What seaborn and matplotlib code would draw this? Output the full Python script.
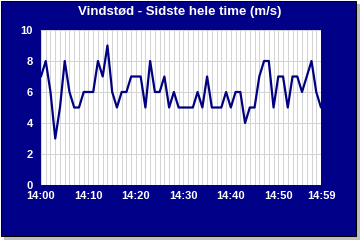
import matplotlib
matplotlib.use("Agg")
import matplotlib.pyplot as plt
from matplotlib.patches import Rectangle
import seaborn as sns
import pandas as pd

minutes = list(range(60))
gust = [7, 8, 6, 3, 5, 8, 6, 5, 5, 6,
        6, 6, 8, 7, 9, 6, 5, 6, 6, 7,
        7, 7, 5, 8, 6, 6, 7, 5, 6, 5,
        5, 5, 5, 6, 5, 7, 5, 5, 5, 6,
        5, 6, 6, 4, 5, 5, 7, 8, 8, 5,
        7, 7, 5, 7, 7, 6, 7, 8, 6, 5]
xtick_pos = [0, 10, 20, 30, 40, 50, 59]
xtick_labels = ["14:00", "14:10", "14:20", "14:30", "14:40", "14:50", "14:59"]
ytick_vals = [0, 2, 4, 6, 8, 10]
title = "Vindstød - Sidste hele time (m/s)"

df = pd.DataFrame({"minute": minutes, "gust": gust})

sns.set_style("white")
plt.rcParams["font.family"] = ["Liberation Sans", "DejaVu Sans"]

W, H = 360, 240
fig = plt.figure(figsize=(3.6, 2.4), dpi=100)
fig.patch.set_facecolor("white")

navy = "#000088"
# shadow
fig.add_artist(Rectangle((4 / W, 0), 1 - 4 / W, (H - 4) / H, transform=fig.transFigure,
                         facecolor="#c0c0c0", edgecolor="none", zorder=0))
# main panel
fig.add_artist(Rectangle((0.5 / W, 4.5 / H), 355 / W, 235 / H, transform=fig.transFigure,
                         facecolor=navy, edgecolor="black", linewidth=0.75, zorder=0))

ax = fig.add_axes([41 / W, (H - 185) / H, 280 / W, 155 / H])
ax.set_facecolor("white")
ax.set_zorder(2)

sns.lineplot(data=df, x="minute", y="gust", ax=ax, color="#000080", linewidth=1.6,
             zorder=3)

ax.set_xlim(0, 59)
ax.set_ylim(0, 10)
ax.set_xticks(minutes, minor=True)
ax.set_xticks(xtick_pos)
ax.set_xticklabels(xtick_labels)
ax.set_yticks(ytick_vals)
ax.set_yticklabels([str(v) for v in ytick_vals])
ax.grid(True, axis="x", which="both", color="#d4d4d4", linewidth=0.75)
ax.grid(True, axis="y", which="major", color="#d4d4d4", linewidth=0.75)
ax.set_axisbelow(True)
for s in ax.spines.values():
    s.set_visible(False)
ax.tick_params(axis="both", which="both", length=0, colors="white", labelsize=8)
ax.tick_params(axis="x", pad=4)
ax.tick_params(axis="y", pad=6)
for lab in ax.get_xticklabels() + ax.get_yticklabels():
    lab.set_fontweight("bold")
ax.set_xlabel("")
ax.set_ylabel("")

fig.text(180 / W, 1 - 12 / H, title, color="white", fontsize=9.5, fontweight="bold",
         ha="center", va="center")

fig.savefig("out.png", dpi=100)
